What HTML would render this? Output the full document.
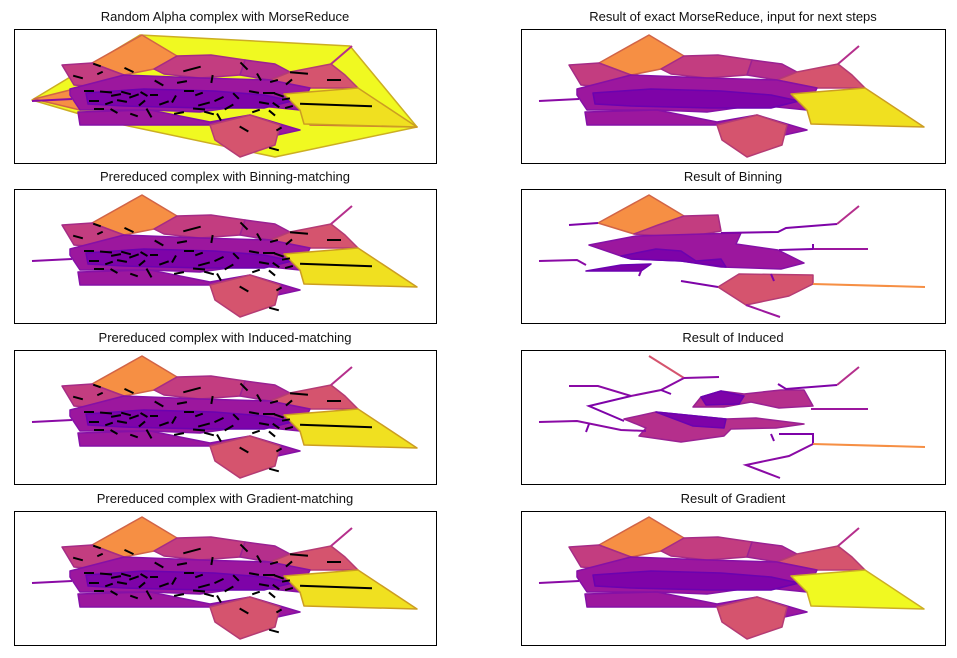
<!DOCTYPE html>
<html><head><meta charset="utf-8">
<style>
body{margin:0;background:#fff;}
svg{display:block;font-family:"Liberation Sans","DejaVu Sans",sans-serif;}
</style></head>
<body>
<svg id="fig" width="957" height="658" viewBox="0 0 957 658" xmlns="http://www.w3.org/2000/svg"></svg>
<script>
// panel layout
const panelTitles = ["Random Alpha complex with MorseReduce","Result of exact MorseReduce, input for next steps",
 "Prereduced complex with Binning-matching","Result of Binning",
 "Prereduced complex with Induced-matching","Result of Induced",
 "Prereduced complex with Gradient-matching","Result of Gradient"];
// base complex polygons in data coords (x 0..422, y 0..134, y down)
const basePolys = [
 {c:"#f68f44",p:[[78,34],[128,6],[163,27],[140,40],[110,46]]},
 {c:"#c33d80",p:[[48,36],[78,34],[110,46],[85,58],[60,56]]},
 {c:"#c33d80",p:[[140,40],[163,27],[197,26],[231,31],[226,46],[186,49],[150,45]]},
 {c:"#b52f8c",p:[[231,31],[261,35],[276,43],[256,51],[226,46]]},
 {c:"#d5546e",p:[[276,43],[317,35],[331,46],[344,59],[296,59],[256,51]]},
 {c:"#9c179e",p:[[56,60],[110,46],[186,49],[256,51],[296,59],[286,81],[236,76],[186,83],[136,81],[66,81],[56,66]]},
 {c:"#7e03a8",p:[[72,64],[130,60],[200,62],[250,66],[278,72],[250,79],[190,79],[110,77],[74,75]]},
 {c:"#f0e020",p:[[270,65],[344,59],[403,98],[290,95],[286,81]]},
 {c:"#9c179e",p:[[64,83],[136,81],[196,93],[236,86],[286,101],[241,111],[196,96],[126,96],[66,96]]},
 {c:"#d5546e",p:[[196,96],[236,86],[266,96],[261,116],[226,128],[201,111]]}
];
const baseLines = [
 {c:"#8a0aa5",p:[[18,72],[58,70]]},
 {c:"#b52f8c",p:[[317,35],[338,17]]}
];
// row1 convex hull (yellow) with some orange patches
const hullPolys = [
 {c:"#f0f921",p:[[18,71],[126,6],[336,17],[403,98],[261,128],[86,91]]},
 {c:"#f68f44",p:[[20,70],[60,60],[66,81]]},
 {c:"#f68f44",p:[[290,80],[403,98],[296,96]]}
];
// black matching segments [x,y,len,angleDeg]
const segs = [
 [83,36,8,20],[115,41,10,25],[178,40,18,-15],[230,37,10,45],[285,44,18,5],[320,51,14,0],
 [64,48,10,15],[86,44,6,-25],[145,54,10,30],[168,53,10,-10],[198,50,8,-80],[245,48,8,60],[260,52,8,-15],[275,53,8,-40],
 [75,62,10,0],[92,63,12,5],[102,66,10,-10],[112,64,10,15],[120,67,10,-20],[130,65,8,30],[140,66,8,0],
 [160,70,8,-60],[175,62,10,0],[185,65,8,-20],[205,70,10,-25],[222,67,8,45],[240,63,10,10],[255,64,12,0],[265,66,10,20],[272,70,8,-10],
 [80,72,10,0],[95,74,8,-20],[108,72,10,10],[128,74,8,-40],[150,74,10,-20],[190,75,12,-15],[215,78,10,-30],[250,74,10,10],[262,76,8,35],[275,78,8,-15],
 [85,80,10,0],[100,82,8,30],[120,86,8,20],[135,84,10,60],[165,84,10,-10],[185,80,12,5],[195,84,10,15],[205,88,8,60],[242,82,8,-20],[258,84,8,40],
 [230,100,10,30],[265,100,6,-30],[260,120,10,15],[322,76,72,2]
];
// binning result
const binPolys = [
 {c:"#f68f44",p:[[77,34],[128,6],[163,27],[113,45]]},
 {c:"#c33d80",p:[[113,45],[137,36],[163,27],[197,26],[200,42],[183,45],[140,47]]},
 {c:"#9c179e",p:[[68,56],[115,47],[183,45],[220,44],[215,55],[257,61],[283,74],[260,80],[200,78],[160,72],[110,70],[100,67]]},
 {c:"#7e03a8",p:[[100,67],[135,60],[160,62],[175,72],[200,70],[205,78],[160,72],[110,70]]},
 {c:"#7e03a8",p:[[65,82],[100,76],[130,75],[120,82]]},
 {c:"#d5546e",p:[[197,98],[218,85],[292,86],[292,95],[268,107],[225,116]]}
];
const binLines = [
 {c:"#7e03a8",p:[[48,36],[77,34]]},{c:"#8a0aa5",p:[[18,72],[56,71],[65,76]]},
 {c:"#7e03a8",p:[[200,44],[257,43],[265,39],[316,35]]},{c:"#b52f8c",p:[[316,35],[338,17]]},
 {c:"#7e03a8",p:[[258,61],[292,60]]},{c:"#9c179e",p:[[292,60],[347,60]]},{c:"#7e03a8",p:[[292,60],[292,55]]},
 {c:"#7e03a8",p:[[160,92],[197,98]]},{c:"#f68f44",p:[[292,95],[404,98]]},{c:"#9c179e",p:[[225,116],[259,128]]},
 {c:"#7e03a8",p:[[120,82],[118,87]]},{c:"#7e03a8",p:[[250,85],[253,92]]}
];
// induced result
const indPolys = [
 {c:"#b52f8c",p:[[180,47],[200,41],[223,44],[260,40],[283,40],[292,56],[258,58],[230,52],[203,57],[172,57]]},
 {c:"#7e03a8",p:[[180,47],[200,41],[223,46],[218,54],[185,55]]},
 {c:"#b52f8c",p:[[103,69],[135,62],[205,69],[235,68],[283,74],[255,78],[210,79],[203,86],[160,92],[118,86],[125,78]]},
 {c:"#7e03a8",p:[[135,62],[205,69],[203,78],[172,76]]}
];
const indLines = [
 {c:"#d5546e",p:[[128,6],[163,28]]},{c:"#8a0aa5",p:[[163,28],[198,27]]},
 {c:"#8a0aa5",p:[[163,28],[140,40],[110,46],[77,36],[48,36]]},{c:"#7e03a8",p:[[140,40],[150,44]]},
 {c:"#7e03a8",p:[[110,46],[68,56],[103,71]]},{c:"#8a0aa5",p:[[18,72],[56,71],[100,80],[125,81]]},
 {c:"#7e03a8",p:[[68,74],[65,82]]},{c:"#7e03a8",p:[[257,34],[265,39],[316,35]]},{c:"#b52f8c",p:[[316,35],[338,17]]},
 {c:"#9c179e",p:[[290,59],[347,59]]},{c:"#7e03a8",p:[[258,84],[292,84],[292,94]]},{c:"#f68f44",p:[[292,94],[404,97]]},
 {c:"#8a0aa5",p:[[292,94],[268,106],[225,115],[259,128]]},{c:"#7e03a8",p:[[250,84],[253,91]]}
];
const panelX = [14,521];
const panelWs = [422,424];
const panelY = [29,189,350,511];
const panelH = 134;
const NS = "http://www.w3.org/2000/svg";
const svg = document.getElementById('fig');
function el(t,a){const e=document.createElementNS(NS,t);for(const k in a)e.setAttribute(k,a[k]);return e;}
function xs(px,v){return px+v;}
function ys(py,v){return py+v*(panelH/134);}
function darker(c){const n=parseInt(c.slice(1),16);let r=n>>16,g=(n>>8)&255,b=n&255;r=Math.round(r*0.85);g=Math.round(g*0.7);b=Math.round(Math.min(255,b*1.05));return "rgb("+r+","+g+","+b+")";}
function drawPolys(g,px,py,list,nm){
 list.forEach((o,i)=>{
  const pts=o.p.map(q=>xs(px,q[0]).toFixed(1)+","+ys(py,q[1]).toFixed(1)).join(" ");
  const e=el('polygon',{points:pts,fill:o.c,stroke:darker(o.c),'stroke-width':1.5,'stroke-linejoin':'round'});
  
  
  g.appendChild(e);
 });
}
function drawLines(g,px,py,list,nm){
 list.forEach((o,i)=>{
  const pts=o.p.map(q=>xs(px,q[0]).toFixed(1)+","+ys(py,q[1]).toFixed(1)).join(" ");
  const e=el('polyline',{points:pts,fill:'none',stroke:o.c,'stroke-width':2});
  
  
  g.appendChild(e);
 });
}
function drawSegs(g,px,py){
 segs.forEach((s,i)=>{
  const a=s[3]*Math.PI/180,dx=Math.cos(a)*s[2]/2,dy=Math.sin(a)*s[2]/2;
  const e=el('line',{x1:xs(px,s[0]-dx),y1:ys(py,s[1]-dy),x2:xs(px,s[0]+dx),y2:ys(py,s[1]+dy),stroke:'#000','stroke-width':2});
  
  
  g.appendChild(e);
 });
}
for(let r=0;r<4;r++){for(let c=0;c<2;c++){
 const px=panelX[c],py=panelY[r],idx=r*2+c,pw=panelWs[c];
 const g=el('g',{});
 
 
 svg.appendChild(g);
 const t=el('text',{x:px+pw/2,y:py-8,'text-anchor':'middle','font-size':13,fill:'#111'});
 t.textContent=panelTitles[idx];
 
 
 g.appendChild(t);
 const nm='panel-'+(idx+1);
 if(c===0){
  if(r===0) drawPolys(g,px,py,hullPolys,nm+'-hull');
  drawPolys(g,px,py,basePolys,nm);drawLines(g,px,py,baseLines,nm);drawSegs(g,px,py);
 } else if(r===0||r===3){
  drawPolys(g,px,py,basePolys.map(o=>r===3&&o.c==="#f0e020"?{c:"#f0f921",p:o.p}:o),nm);drawLines(g,px,py,baseLines,nm);
 } else if(r===1){
  drawPolys(g,px,py,binPolys,nm);drawLines(g,px,py,binLines,nm);
 } else {
  drawPolys(g,px,py,indPolys,nm);drawLines(g,px,py,indLines,nm);
 }
 const fr=el('rect',{x:px+0.5,y:py+0.5,width:pw,height:panelH,fill:'none',stroke:'#000','stroke-width':1});
 
 
 g.appendChild(fr);
}}
</script>
</body></html>
